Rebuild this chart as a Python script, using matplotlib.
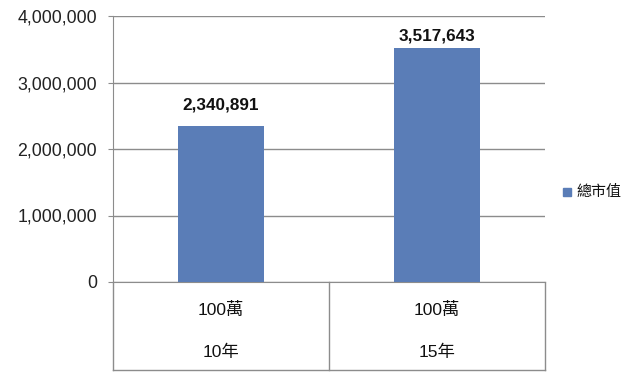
import matplotlib
matplotlib.use("Agg")
from matplotlib import pyplot as plt
from matplotlib.patches import Rectangle

# Data
years = ['10年', '15年']
units = ['100萬', '100萬']
market_value = [2340891, 3517643]
series_name = '總市值'
yticks = [0, 1000000, 2000000, 3000000, 4000000]

plt.rcParams['font.family'] = ['Liberation Sans', 'Noto Sans CJK TC']

bar_color = '#5a7db7'
line_color = '#8c8c8c'
label_gap = [10, 3.6]  # points above bar top, as placed in the original

fig = plt.figure(figsize=(6.4, 3.72), dpi=100)
ax = fig.add_axes([113/640, 1 - 282/372, 432/640, 266/372])

x = list(range(len(years)))
ax.bar(x, market_value, width=0.4, color=bar_color, zorder=3)
for xi, v, g in zip(x, market_value, label_gap):
    ax.annotate(format(v, ','), (xi, v), xytext=(0, g),
                textcoords='offset points', ha='center', va='bottom',
                fontsize=12.3, fontweight='bold', color='#111111')

ax.set_xlim(-0.5, len(years) - 0.5)
ax.set_ylim(0, 4000000)
ax.set_yticks(yticks)
ax.set_yticklabels([format(t, ',') for t in yticks], fontsize=12.8, color='#222222')
ax.tick_params(axis='y', length=3.6, color=line_color, pad=8)
ax.set_xticks([])
ax.grid(axis='y', color=line_color, linewidth=1, zorder=0)

for s in ['top', 'right']:
    ax.spines[s].set_visible(False)
ax.spines['left'].set_color(line_color)
ax.spines['bottom'].set_color(line_color)

# Category axis grid below plot
depth = -88 / 266
trans = ax.get_xaxis_transform()
for b in [-0.5, 0.5, 1.5]:
    ax.plot([b, b], [0, depth], color=line_color, linewidth=1,
            transform=trans, clip_on=False)
ax.plot([-0.5, 1.5], [depth, depth], color=line_color, linewidth=1,
        transform=trans, clip_on=False)
for xi, u, yr in zip(x, units, years):
    ax.text(xi, -28 / 266, u, transform=trans, ha='center', va='center',
            fontsize=12.5, color='#111111')
    ax.text(xi, -70 / 266, yr, transform=trans, ha='center', va='center',
            fontsize=12.5, color='#111111')

# Legend
fig.patches.append(Rectangle((563/640, 1 - 196/372), 8/640, 8/372,
                             transform=fig.transFigure, color=bar_color))
fig.text(576/640, 1 - 192/372, series_name, ha='left', va='center',
         fontsize=10.8, color='#111111')

fig.savefig('out.png', dpi=100)
